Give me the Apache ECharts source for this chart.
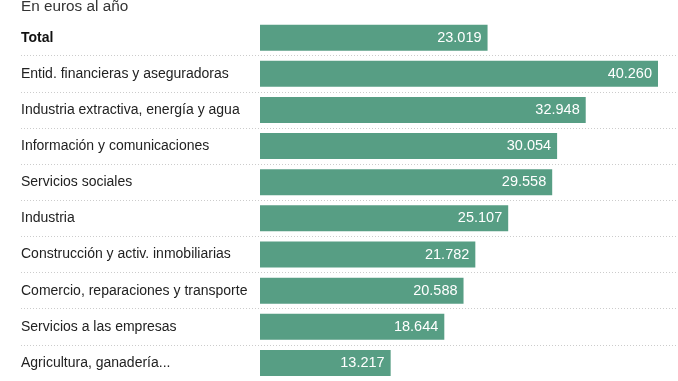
<!DOCTYPE html>
<html><head><meta charset="utf-8">
<script src="https://cdn.jsdelivr.net/npm/echarts@6/dist/echarts.min.js"></script>
<style>html,body{margin:0;padding:0;background:#fff}#c{width:678px;height:381px}</style>
</head><body><div id="c"></div>
<script>
const categories = ['Total','Entid. financieras y aseguradoras','Industria extractiva, energía y agua','Información y comunicaciones','Servicios sociales','Industria','Construcción y activ. inmobiliarias','Comercio, reparaciones y transporte','Servicios a las empresas','Agricultura, ganadería...'];
const values = [23019,40260,32948,30054,29558,25107,21782,20588,18644,13217];
const subtitle = 'En euros al año';

const fmt = v => String(v).replace(/\B(?=(\d{3})+(?!\d))/g, '.');
const chart = echarts.init(document.getElementById('c'), null, {renderer:'canvas'});
const gTop = 19.6, gH = 368;
chart.setOption({
  animation:false,
  title:{text:subtitle,left:21,top:-1,padding:0,textStyle:{fontFamily:'Liberation Sans',fontSize:15.3,fontWeight:'normal',color:'#333'}},
  grid:[
    {left:260,right:20,top:gTop,height:gH,containLabel:false},
    {left:21,right:0,top:gTop,height:gH,containLabel:false}
  ],
  xAxis:[
    {type:'value',min:0,max:'dataMax',show:false,gridIndex:0},
    {type:'value',min:0,max:1,show:false,gridIndex:1}
  ],
  yAxis:[
    {type:'category',data:categories,inverse:true,gridIndex:0,
    axisLine:{show:false},axisTick:{show:false},
    axisLabel:{align:'left',margin:239,fontFamily:'Liberation Sans',fontSize:14,color:'#222',
      formatter:(v,i)=> i===0 ? '{b|'+v+'}' : v,
      rich:{b:{fontWeight:'bold',fontFamily:'Liberation Sans',fontSize:14,color:'#111'}}},
    splitLine:{show:false}},
    {type:'category',data:categories,inverse:true,gridIndex:1,
    axisLine:{show:false},axisTick:{show:false},axisLabel:{show:false},
    splitLine:{show:true,interval:(i)=> i>0,lineStyle:{type:[1,2],color:'#cccccc',width:1}}}
  ],
  series:[{type:'bar',data:values,barWidth:26,xAxisIndex:0,yAxisIndex:0,itemStyle:{color:'#579e84'},
    label:{show:true,position:'insideRight',distance:6,color:'#fff',fontFamily:'Liberation Sans',fontSize:14.5,formatter:p=>fmt(p.value)}}]
});
</script></body></html>
